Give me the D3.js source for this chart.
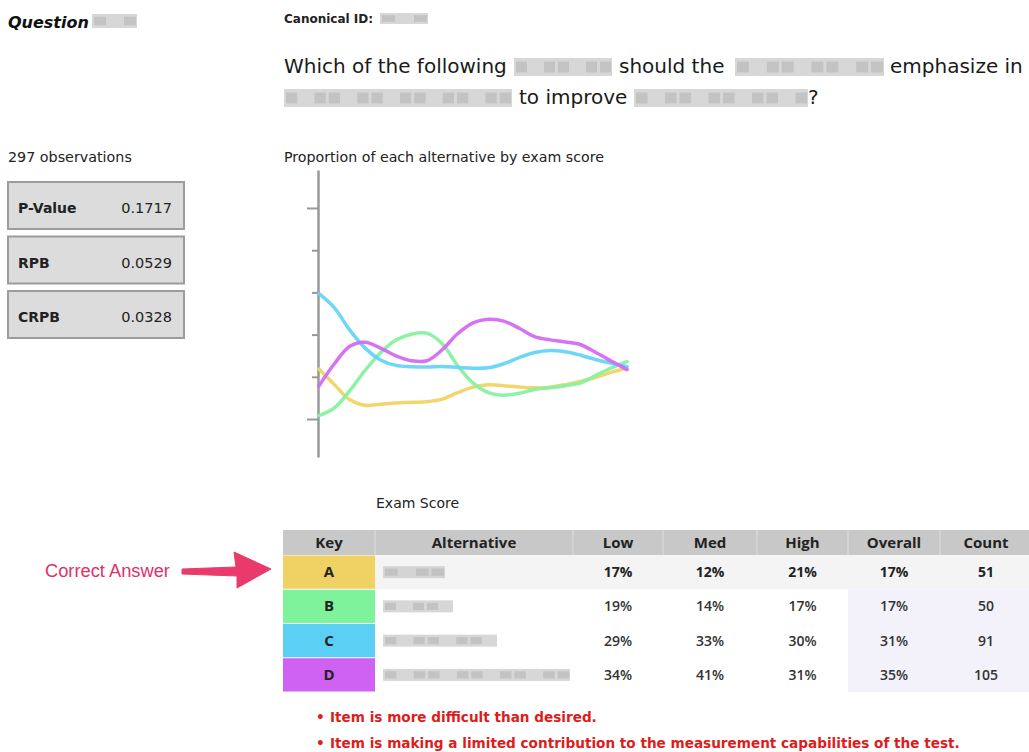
<!DOCTYPE html>
<html>
<head>
<meta charset="utf-8">
<script src="https://cdn.jsdelivr.net/npm/d3@7"></script>
<style>
  html, body { margin: 0; padding: 0; background: #ffffff; }
  svg { display: block; }
</style>
</head>
<body>
<svg id="chart" width="1029" height="752"></svg>
<script>
// ---------------- DATA ----------------
const scores = [0, 5, 10, 15, 20, 25, 30, 35, 40, 45, 50, 55, 60, 65, 70, 75, 80, 85, 90, 95, 100];
const seriesA = [0.237, 0.163, 0.091, 0.065, 0.070, 0.076, 0.079, 0.082, 0.094, 0.125, 0.151, 0.162, 0.158, 0.152, 0.148, 0.151, 0.163, 0.179, 0.198, 0.222, 0.242];
const seriesB = [0.016, 0.053, 0.134, 0.231, 0.314, 0.374, 0.402, 0.407, 0.357, 0.253, 0.171, 0.125, 0.113, 0.122, 0.140, 0.148, 0.158, 0.172, 0.208, 0.243, 0.272];
const seriesC = [0.594, 0.527, 0.421, 0.336, 0.280, 0.254, 0.248, 0.246, 0.249, 0.245, 0.241, 0.243, 0.262, 0.291, 0.315, 0.325, 0.319, 0.302, 0.281, 0.264, 0.248];
const seriesD = [0.158, 0.262, 0.345, 0.364, 0.336, 0.299, 0.276, 0.276, 0.328, 0.404, 0.456, 0.473, 0.464, 0.430, 0.390, 0.375, 0.365, 0.352, 0.314, 0.274, 0.234];
const yTicks = [0, 0.2, 0.4, 0.6, 0.8, 1.0];

const keys = ["A", "B", "C", "D"];
const keyColors = ["#efd263", "#7ff39b", "#5cd0f4", "#cf62f2"];
const lineColors = ["#f0d466", "#86f2a0", "#66d4f6", "#d46cf2"];
const lowVals = ["17%", "19%", "29%", "34%"];
const medVals = ["12%", "14%", "33%", "41%"];
const highVals = ["21%", "17%", "30%", "31%"];
const overallVals = ["17%", "17%", "31%", "35%"];
const counts = ["51", "50", "91", "105"];
const headers = ["Key", "Alternative", "Low", "Med", "High", "Overall", "Count"];
const altWidths = [62, 70, 114, 187];   // redacted alternative text widths

const statLabels = ["P-Value", "RPB", "CRPB"];
const statValues = ["0.1717", "0.0529", "0.0328"];
const notes = ["Item is more difficult than desired.",
               "Item is making a limited contribution to the measurement capabilities of the test."];

// ---------------- DRAW ----------------
const svg = d3.select("#chart");
const SANS = "'DejaVu Sans', Verdana, sans-serif";
const TAB = "'Open Sans', Lato, sans-serif";

function redact(x, y, w, h) {
  const g = svg.append("g");
  g.append("rect").attr("x", x).attr("y", y).attr("width", w).attr("height", h)
    .attr("fill", "#c9c9c9").attr("opacity", 0.75);
  const n = Math.max(2, Math.floor(w / 14));
  for (let i = 0; i < n; i++) {
    if (i % 3 === 1) continue;
    g.append("rect").attr("x", x + i * w / n + 2).attr("y", y + h * 0.2)
      .attr("width", w / n - 3).attr("height", h * 0.6)
      .attr("fill", "#b5b5b5").attr("opacity", 0.6);
  }
}

// Header
svg.append("text").attr("x", 8).attr("y", 28)
  .style("font-family", SANS).style("font-size", "16px").style("font-weight", "bold").style("font-style", "italic")
  .attr("fill", "#111").text("Question");
redact(92, 14, 45, 14);

svg.append("text").attr("x", 284).attr("y", 23)
  .style("font-family", SANS).style("font-size", "12px").style("font-weight", "bold")
  .attr("fill", "#222").text("Canonical ID:");
redact(380, 13, 48, 11);

const qStyle = t => t.style("font-family", SANS).style("font-size", "20px").attr("fill", "#1a1a1a");
qStyle(svg.append("text").attr("x", 284).attr("y", 73).text("Which of the following"));
redact(514, 58, 98, 18);
qStyle(svg.append("text").attr("x", 619).attr("y", 73).text("should the"));
redact(735, 58, 149, 18);
qStyle(svg.append("text").attr("x", 890).attr("y", 73).text("emphasize in"));
redact(284, 89, 228, 18);
qStyle(svg.append("text").attr("x", 519).attr("y", 104).text("to improve"));
redact(634, 89, 174, 18);
qStyle(svg.append("text").attr("x", 808).attr("y", 104).text("?"));

// Left stats
svg.append("text").attr("x", 8).attr("y", 162)
  .style("font-family", SANS).style("font-size", "14.3px").attr("fill", "#222").text("297 observations");
statLabels.forEach((lab, i) => {
  const y0 = 182 + i * 54.5;
  svg.append("rect").attr("x", 8).attr("y", y0).attr("width", 176).attr("height", 47)
    .attr("fill", "#dcdcdc").attr("stroke", "#9c9c9c").attr("stroke-width", 2);
  svg.append("text").attr("x", 18).attr("y", y0 + 31)
    .style("font-family", SANS).style("font-size", "14px").style("font-weight", "bold")
    .attr("fill", "#222").text(lab);
  svg.append("text").attr("x", 172).attr("y", y0 + 31).attr("text-anchor", "end")
    .style("font-family", SANS).style("font-size", "14.5px")
    .attr("fill", "#222").text(statValues[i]);
});

// Chart
svg.append("text").attr("x", 284).attr("y", 162)
  .style("font-family", SANS).style("font-size", "14.2px").attr("fill", "#222")
  .text("Proportion of each alternative by exam score");

const x = d3.scaleLinear().domain([0, 100]).range([319, 627]);
const y = d3.scaleLinear().domain([-0.18, 1.18]).range([457, 170]);

const axisMinor = d3.axisLeft(y).tickValues(yTicks).tickSize(6).tickSizeOuter(0).tickFormat("");
const gAxis = svg.append("g").attr("transform", "translate(318,0)").call(axisMinor);
gAxis.selectAll("line").attr("stroke", "#999").attr("stroke-width", 2)
  .attr("x2", d => (d === 0 || d === 1) ? -11 : -6);
gAxis.select(".domain").attr("stroke", "#999").attr("stroke-width", 2.5);

const series = [seriesA, seriesB, seriesC, seriesD];
const line = d3.line().x((d, i) => x(scores[i])).y(d => y(d)).curve(d3.curveCatmullRom.alpha(0.5));
[0, 1, 2, 3].forEach(k => {
  svg.append("path").datum(series[k]).attr("d", line)
    .attr("fill", "none").attr("stroke", lineColors[k]).attr("stroke-width", 3.5)
    .attr("stroke-linecap", "round").attr("stroke-opacity", 0.95);
});

// Table
svg.append("text").attr("x", 376).attr("y", 508)
  .style("font-family", SANS).style("font-size", "14px").attr("fill", "#222").text("Exam Score");

const colEdges = [283, 375, 573, 663, 757, 848, 940, 1032];
const colCenter = i => (colEdges[i] + colEdges[i + 1]) / 2;
const rowY = d3.scaleBand().domain(keys).range([555, 692]).paddingInner(0);

svg.append("rect").attr("x", 283).attr("y", 530).attr("width", 749).attr("height", 25).attr("fill", "#c8c8c8");
colEdges.slice(1, -1).forEach(e => {
  svg.append("line").attr("x1", e).attr("x2", e).attr("y1", 530).attr("y2", 555)
    .attr("stroke", "#dedede").attr("stroke-width", 1);
});
headers.forEach((h, i) => {
  svg.append("text").attr("x", colCenter(i)).attr("y", 548).attr("text-anchor", "middle")
    .style("font-family", TAB).style("font-size", "15px").style("font-weight", "bold")
    .attr("fill", "#222").text(h);
});

svg.append("rect").attr("x", 375).attr("y", rowY("A")).attr("width", 657).attr("height", rowY.bandwidth())
  .attr("fill", "#f4f4f4");
svg.append("rect").attr("x", 848).attr("y", rowY("B")).attr("width", 184).attr("height", rowY.bandwidth() * 3)
  .attr("fill", "#f3f2fb");

const cols = [lowVals, medVals, highVals, overallVals, counts];
keys.forEach((k, r) => {
  const y0 = rowY(k), bh = rowY.bandwidth();
  svg.append("rect").attr("x", 283).attr("y", y0 + 0.5).attr("width", 92).attr("height", bh - 1)
    .attr("fill", keyColors[r]);
  svg.append("text").attr("x", colCenter(0)).attr("y", y0 + bh / 2 + 5).attr("text-anchor", "middle")
    .style("font-family", TAB).style("font-size", "15px").style("font-weight", "bold")
    .attr("fill", "#222").text(k);
  redact(383, y0 + bh / 2 - 6, altWidths[r], 12);
  cols.forEach((vals, c) => {
    svg.append("text").attr("x", colCenter(c + 2)).attr("y", y0 + bh / 2 + 5).attr("text-anchor", "middle")
      .style("font-family", TAB).style("font-size", "14px").style("font-weight", r === 0 ? "bold" : "600")
      .attr("fill", r === 0 ? "#222" : "#333").text(vals[r]);
  });
});

// Correct answer annotation
svg.append("text").attr("x", 45).attr("y", 577)
  .style("font-family", "'Liberation Sans', Arial, sans-serif").style("font-size", "18.3px")
  .attr("fill", "#e0306a").text("Correct Answer");
svg.append("path")
  .attr("d", "M182,569 L236,567 L234,552 L271,569 L237,588 L237,576 L182,574 Z")
  .attr("fill", "#ea3a6c").attr("stroke", "#ea3a6c").attr("stroke-width", 1).attr("stroke-linejoin", "round");

// Notes
notes.forEach((n, i) => {
  const yy = 722 + i * 26;
  svg.append("text").attr("x", 316).attr("y", yy)
    .style("font-family", SANS).style("font-size", "13.6px").style("font-weight", "bold")
    .attr("fill", "#dd1c1c").text("•");
  svg.append("text").attr("x", 330).attr("y", yy)
    .style("font-family", SANS).style("font-size", "13.6px").style("font-weight", "bold")
    .attr("fill", "#dd1c1c").text(n);
});
</script>
</body>
</html>
